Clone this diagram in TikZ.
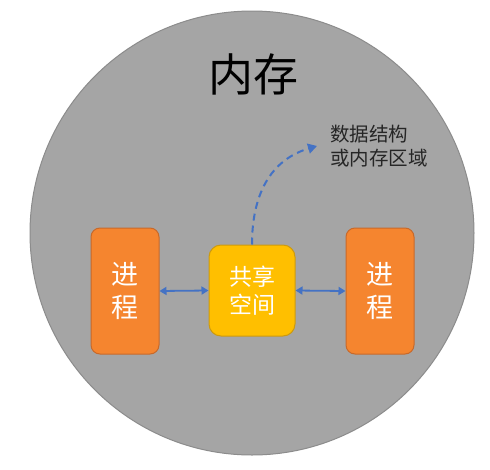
\documentclass[tikz,border=0pt]{standalone}
\usepackage{fontspec}
\setmainfont{Noto Sans CJK SC}
\usetikzlibrary{arrows.meta}
\definecolor{memgray}{HTML}{A5A5A5}
\definecolor{memedge}{HTML}{8C8C8C}
\definecolor{procor}{HTML}{F5852F}
\definecolor{procedge}{HTML}{C8692A}
\definecolor{shyel}{HTML}{FFBF00}
\definecolor{shedge}{HTML}{CC9A10}
\definecolor{arblue}{HTML}{4472C4}
\begin{document}
\begin{tikzpicture}[x=1pt,y=-1pt,
  proc/.style={draw=procedge,line width=1pt,fill=procor,rounded corners=9pt,minimum width=68pt,minimum height=126pt,text=white,font=\fontsize{27}{33}\selectfont,align=center,inner sep=0pt},
  shared/.style={draw=shedge,line width=1pt,fill=shyel,rounded corners=12pt,minimum width=86pt,minimum height=91pt,text=white,font=\fontsize{23}{28}\selectfont,align=center,inner sep=0pt},
  link/.style={arblue,line width=1.8pt,{Triangle[width=8pt,length=7pt]}-{Triangle[width=8pt,length=7pt]}},
  dlink/.style={arblue,line width=2pt,dash pattern=on 7pt off 5pt,-{Triangle[width=10pt,length=9pt]}}]
\useasboundingbox (0,0) rectangle (490,469);
\fill[white] (0,0) rectangle (490,469);
\node[circle,draw=memedge,line width=1pt,fill=memgray,minimum size=444pt,inner sep=0pt] (mem) at (252,233) {};
\node[font=\fontsize{45}{50}\selectfont,text=black] (title) at (253,74) {内存};
\node[proc] (p1) at (125,291) {进\\程};
\node[shared] (sh) at (252,290.5) {共享\\空间};
\node[proc] (p2) at (380,291) {进\\程};
\node[font=\fontsize{19.5}{24}\selectfont,text=black!85,align=left,anchor=north west,inner sep=0pt] (lbl) at (330,125) {数据结构\\或内存区域};
\coordinate (tip) at (317,146);
\draw[link] (p1.east) -- (sh.west);
\draw[link] (sh.east) -- (p2.west);
\draw[dlink] (sh.north) .. controls (252,195) and (270,160) .. (tip);
\end{tikzpicture}
\end{document}
